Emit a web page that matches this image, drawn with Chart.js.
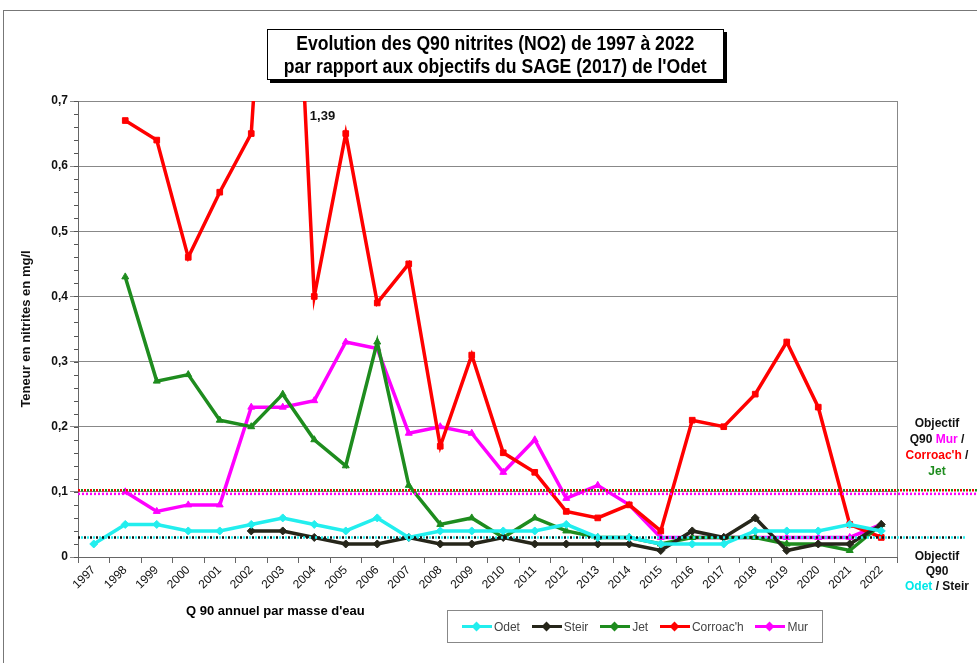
<!DOCTYPE html>
<html lang="fr">
<head>
  <meta charset="UTF-8">
  <title>Q90 nitrites Odet</title>
  <style>
    body {
      margin: 0;
      background: #fff;
      font-family: "Liberation Sans", Arial, sans-serif;
    }
    .page {
      position: relative;
      width: 977px;
      height: 663px;
      overflow: hidden;
    }
    .frame {
      position: absolute;
      left: 3px; top: 10px; width: 990px; height: 700px;
      border-left: 1px solid #777;
      border-top: 1px solid #777;
    }
    canvas { position: absolute; left: 0; top: 0; }
    .title {
      position: absolute;
      left: 267px; top: 29px; width: 457px; height: 51px;
      border: 1px solid #000;
      box-shadow: 3px 3px 0 #000;
      background: #fff;
      display: flex; flex-direction: column; align-items: center;
      font-weight: bold;
      font-size: 20px;
      line-height: 23px;
      padding-top: 2px;
      box-sizing: border-box;
      white-space: nowrap;
    }
    .title span { display: block; transform: scaleX(0.88); transform-origin: center; }
    .xtitle {
      position: absolute;
      left: 186px; top: 603px;
      font-weight: bold; font-size: 13px;
    }
    .legend {
      position: absolute;
      left: 447px; top: 610px; width: 376px; height: 33px;
      border: 1px solid #888;
      box-sizing: border-box;
      display: flex; align-items: center; justify-content: space-around;
      padding: 0 8px;
      font-size: 12px; color: #444;
    }
    .legend .item { display: flex; align-items: center; }
    .legend .sw { position: relative; width: 30px; height: 3px; margin-right: 2px; }
    .legend .sw i {
      position: absolute; left: 11px; top: -2px; width: 7px; height: 7px;
    }
    .obj {
      position: absolute;
      width: 100px;
      text-align: center;
      font-weight: bold; font-size: 12px; line-height: 16px;
      color: #111;
    }
  </style>
</head>
<body>
<div class="page">
  <div class="frame"></div>
  <canvas id="chart" width="977" height="663"></canvas>
  <div class="title"><span>Evolution des Q90 nitrites (NO2) de 1997 à 2022</span><span>par rapport aux objectifs du SAGE (2017) de l'Odet</span></div>
  <div class="xtitle">Q 90 annuel par masse d'eau</div>
  <div class="legend" id="legend"></div>
  <div class="obj" style="left:887px; top:415px;">Objectif<br>Q90 <span style="color:#ff00ff">Mur</span> /<br><span style="color:#ff0000">Corroac'h</span> /<br><span style="color:#1e8c1e">Jet</span></div>
  <div class="obj" style="left:887px; top:549px; line-height:15px;">Objectif<br>Q90<br><span style="color:#00e8e8">Odet</span> / Steir</div>
</div>

<script src="https://cdn.jsdelivr.net/npm/chart.js"></script>
<script>
  const years = ['1997','1998','1999','2000','2001','2002','2003','2004','2005','2006','2007','2008','2009',
                 '2010','2011','2012','2013','2014','2015','2016','2017','2018','2019','2020','2021','2022'];

  const odet     = [0.02,0.05,0.05,0.04,0.04,0.05,0.06,0.05,0.04,0.06,0.03,0.04,0.04,0.04,0.04,0.05,0.03,0.03,0.02,0.02,0.02,0.04,0.04,0.04,0.05,0.04];
  const steir    = [null,null,null,null,null,0.04,0.04,0.03,0.02,0.02,0.03,0.02,0.02,0.03,0.02,0.02,0.02,0.02,0.01,0.04,0.03,0.06,0.01,0.02,0.02,0.05];
  const jet      = [null,0.43,0.27,0.28,0.21,0.20,0.25,0.18,0.14,0.33,0.11,0.05,0.06,0.03,0.06,0.04,0.03,0.03,0.02,0.03,0.03,0.03,0.02,0.02,0.01,0.05];
  const corroach = [null,0.67,0.64,0.46,0.56,0.65,1.39,0.40,0.65,0.39,0.45,0.17,0.31,0.16,0.13,0.07,0.06,0.08,0.04,0.21,0.20,0.25,0.33,0.23,0.05,0.03];
  const mur      = [null,0.10,0.07,0.08,0.08,0.23,0.23,0.24,0.33,0.32,0.19,0.20,0.19,0.13,0.18,0.09,0.11,0.08,0.03,0.03,0.03,0.03,0.03,0.03,0.03,0.05];

  const yTicks = [0, 0.1, 0.2, 0.3, 0.4, 0.5, 0.6, 0.7];
  const objectifHaut = 0.1;   // Mur / Corroac'h / Jet
  const objectifBas = 0.03;   // Odet / Steir
  const offChartYear = '2003';
  const offChartLabel = '1,39';

  const series = [
    { label: 'Odet',      data: odet,     color: '#22eeee', point: 'rectRot' },
    { label: 'Steir',     data: steir,    color: '#26261a', point: 'rectRot' },
    { label: 'Jet',       data: jet,      color: '#1e8c1e', point: 'triangle' },
    { label: "Corroac'h", data: corroach, color: '#ff0000', point: 'rect' },
    { label: 'Mur',       data: mur,      color: '#ff00ff', point: 'triangle' }
  ];

  // legend box (html)
  const legend = document.getElementById('legend');
  series.forEach(s => {
    const it = document.createElement('div');
    it.className = 'item';
    it.innerHTML = '<span class="sw" style="background:' + s.color + '"><i style="background:' + s.color +
      ';transform:rotate(45deg)"></i></span>' + s.label;
    legend.appendChild(it);
  });

  // objective dotted lines, minor ticks, right border, off-chart label
  const extras = {
    id: 'extras',
    afterDatasetsDraw(chart) {
      const ctx = chart.ctx;
      const y = chart.scales.y, x = chart.scales.x;
      const a = chart.chartArea;
      ctx.save();
      // right border of plot
      ctx.strokeStyle = '#888';
      ctx.lineWidth = 1;
      ctx.beginPath();
      ctx.moveTo(a.right + 0.5, a.top);
      ctx.lineTo(a.right + 0.5, a.bottom);
      ctx.stroke();
      // minor ticks
      ctx.strokeStyle = '#555';
      for (let v = 0; v <= 0.7001; v += 0.02) {
        const py = Math.round(y.getPixelForValue(v)) + 0.5;
        ctx.beginPath();
        ctx.moveTo(a.left - 4, py);
        ctx.lineTo(a.left, py);
        ctx.stroke();
      }
      function dotted(val, dy, color, dash, offset, xEnd) {
        const py = y.getPixelForValue(val) + dy;
        ctx.setLineDash(dash);
        ctx.lineDashOffset = offset;
        ctx.strokeStyle = color;
        ctx.lineWidth = 2.5;
        ctx.beginPath();
        ctx.moveTo(a.left, py);
        ctx.lineTo(xEnd, py);
        ctx.stroke();
      }
      dotted(objectifHaut, 2, '#ff00ff', [2, 2], 0, 977);
      dotted(objectifHaut, -1.5, '#ff0000', [2, 4], 0, 977);
      dotted(objectifHaut, -1.5, '#1e8c1e', [2, 4], 3, 977);
      dotted(objectifBas, 0, '#22eeee', [2, 4], 3, 965);
      dotted(objectifBas, 0, '#111', [2, 4], 0, 965);
      ctx.setLineDash([]);
      // label of the value above the axis
      const i = years.indexOf(offChartYear);
      const px = (x.getPixelForValue(i) + x.getPixelForValue(i + 1)) / 2 + 24;
      ctx.fillStyle = '#111';
      ctx.font = 'bold 13px "Liberation Sans", Arial, sans-serif';
      ctx.textAlign = 'center';
      ctx.textBaseline = 'middle';
      ctx.fillText(offChartLabel, px, a.top + 15);
      ctx.restore();
    }
  };

  new Chart(document.getElementById('chart'), {
    type: 'line',
    data: {
      labels: years,
      datasets: series.map(s => ({
        label: s.label,
        data: s.data,
        borderColor: s.color,
        backgroundColor: s.color,
        borderWidth: 3.5,
        pointStyle: s.point,
        pointRadius: 4,
        pointBorderWidth: 1,
        tension: 0,
        spanGaps: false
      }))
    },
    options: {
      responsive: false,
      animation: false,
      layout: { padding: { left: 15, top: 101, right: 80, bottom: 56 } },
      plugins: {
        legend: { display: false },
        tooltip: { enabled: false }
      },
      scales: {
        x: {
          offset: true,
          afterFit: s => { s.height = 50; },
          grid: { offset: true, drawOnChartArea: false, tickLength: 6, color: '#666' },
          border: { color: '#666', width: 1 },
          ticks: {
            autoSkip: false, minRotation: 45, maxRotation: 45,
            color: '#111', padding: 0,
            font: { family: '"Liberation Sans", Arial, sans-serif', size: 12 }
          }
        },
        y: {
          min: 0, max: 0.7,
          afterFit: s => { s.width = 63; },
          afterBuildTicks: s => { s.ticks = yTicks.map(v => ({ value: v })); },
          grid: { color: '#888', lineWidth: 1, tickLength: 8 },
          border: { color: '#666', width: 1 },
          ticks: {
            color: '#111', padding: 2,
            font: { family: '"Liberation Sans", Arial, sans-serif', size: 12, weight: 'bold' },
            callback: v => v === 0 ? '0' : v.toFixed(1).replace('.', ',')
          },
          title: {
            display: true,
            text: 'Teneur en nitrites en mg/l',
            color: '#111',
            padding: { top: 4, bottom: 0 },
            font: { family: '"Liberation Sans", Arial, sans-serif', size: 13, weight: 'bold' }
          }
        }
      }
    },
    plugins: [extras]
  });
</script>
</body>
</html>
